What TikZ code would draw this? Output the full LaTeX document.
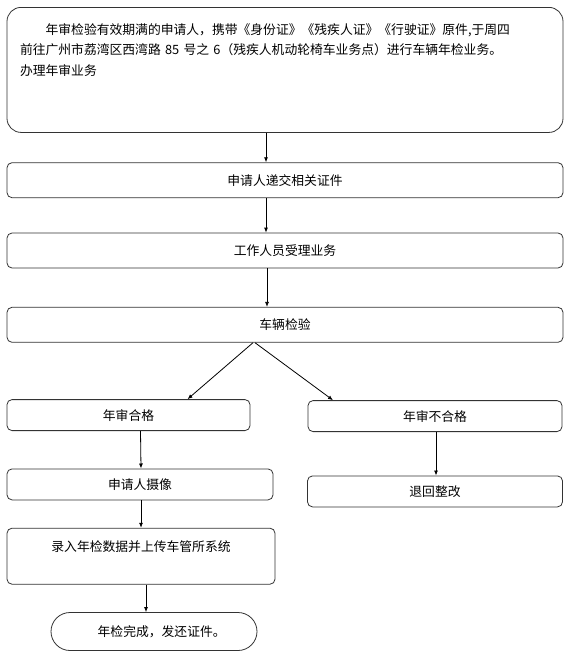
\documentclass[tikz,border=0pt]{standalone}
\usepackage{fontspec}
\usepackage{tikz}
\usetikzlibrary{positioning,arrows.meta}
\newfontfamily\cjk{Noto Sans CJK SC}

\tikzset{
    flowbox/.style={draw=black!80,line width=0.8pt,rounded corners=5pt,inner sep=0pt,
        minimum height=35pt,font=\cjk\fontsize{12.8}{20.5}\selectfont,align=center},
    noticebox/.style={flowbox,rounded corners=14pt,anchor=north,minimum width=556pt,
        minimum height=125pt,text width=530pt,align=left},
    endbox/.style={flowbox,rounded corners=19pt,minimum height=38pt,minimum width=206pt}
}

\begin{document}
\begin{tikzpicture}[x=1pt,y=1pt,>={Latex[length=5pt,width=4pt]},line width=0.8pt]
    \useasboundingbox (0,0) rectangle (570,-653);

    \node (notice) [noticebox] at (285,-7) {\hspace*{2em}年审检验有效期满的申请人，携带《身份证》《残疾人证》《行驶证》原件,于周四\\
        前往广州市荔湾区西湾路 85 号之 6（残疾人机动轮椅车业务点）进行车辆年检业务。\\
        办理年审业务\\ \mbox{}\\ \mbox{}};
    \node (submit) [flowbox,minimum width=556pt,below=29.5pt of notice] {申请人递交相关证件};
    \node (accept) [flowbox,minimum width=556pt,below=34.5pt of submit] {工作人员受理业务};
    \node (check) [flowbox,minimum width=556pt,below=38.5pt of accept] {车辆检验};

    \node (pass) [flowbox,minimum width=243pt,minimum height=31pt,anchor=north west]
        at ([yshift=-56.5pt]check.south west) {年审合格};
    \node (fail) [flowbox,minimum width=254pt,minimum height=31pt,anchor=north east]
        at ([xshift=-1pt,yshift=-57.5pt]check.south east) {年审不合格};

    \node (photo) [flowbox,minimum width=266pt,minimum height=31pt,anchor=north west]
        at ([yshift=-37.5pt]pass.south west) {申请人摄像};
    \node (back) [flowbox,minimum width=255pt,minimum height=31pt,below=43.5pt of fail] {退回整改};
    \node (record) [flowbox,minimum width=268pt,minimum height=56pt,anchor=north west]
        at ([yshift=-27.5pt]photo.south west) {录入年检数据并上传车管所系统\\ \mbox{}};
    \node (done) [endbox,anchor=north west]
        at ([xshift=44pt,yshift=-27.5pt]record.south west) {\hspace*{1.2em}年检完成，发还证件。};

    \draw[->] ([xshift=-19pt]notice.south) -- ([xshift=-19pt]submit.north);
    \draw[->] ([xshift=-19pt]submit.south) -- ([xshift=-19pt]accept.north);
    \draw[->] ([xshift=-18pt]accept.south) -- ([xshift=-18pt]check.north);

    \draw[->] ([xshift=-32pt]check.south) -- ([xshift=59pt]pass.north);
    \draw[->] ([xshift=-30pt]check.south) -- ([xshift=-102pt]fail.north);

    \draw[->] ([xshift=12pt]pass.south) -- ([xshift=1pt]photo.north);
    \draw[->] ([xshift=1pt]fail.south) -- ([xshift=1pt]back.north);
    \draw[->] ([xshift=1pt]photo.south) -- ([xshift=0pt]record.north);
    \draw[->] ([xshift=5pt]record.south) -- ([xshift=-8pt]done.north);
\end{tikzpicture}
\end{document}
